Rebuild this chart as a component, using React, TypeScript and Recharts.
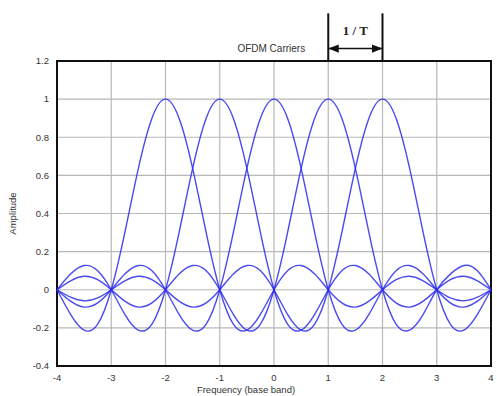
import React from 'react';
import {
  LineChart,
  Line,
  XAxis,
  YAxis,
  CartesianGrid,
  ReferenceArea,
  ReferenceLine,
  ReferenceDot,
} from 'recharts';

// frequency samples (base band)
const freq = [
  -4, -3.75, -3.5, -3.25, -3, -2.75, -2.5, -2.25, -2, -1.75, -1.5, -1.25, -1,
  -0.75, -0.5, -0.25, 0, 0.25, 0.5, 0.75, 1, 1.25, 1.5, 1.75, 2, 2.25, 2.5,
  2.75, 3, 3.25, 3.5, 3.75, 4,
];

// amplitude of each OFDM carrier
const carrierM2 = [
  0, -0.129, -0.212, -0.18, 0, 0.3, 0.637, 0.9, 1, 0.9, 0.637, 0.3, 0, -0.18,
  -0.212, -0.129, 0, 0.1, 0.127, 0.082, 0, -0.069, -0.091, -0.06, 0, 0.053,
  0.071, 0.047, 0, -0.043, -0.058, -0.039, 0,
];
const carrierM1 = [
  0, 0.082, 0.127, 0.1, 0, -0.129, -0.212, -0.18, 0, 0.3, 0.637, 0.9, 1, 0.9,
  0.637, 0.3, 0, -0.18, -0.212, -0.129, 0, 0.1, 0.127, 0.082, 0, -0.069,
  -0.091, -0.06, 0, 0.053, 0.071, 0.047, 0,
];
const carrier0 = [
  0, -0.06, -0.091, -0.069, 0, 0.082, 0.127, 0.1, 0, -0.129, -0.212, -0.18, 0,
  0.3, 0.637, 0.9, 1, 0.9, 0.637, 0.3, 0, -0.18, -0.212, -0.129, 0, 0.1, 0.127,
  0.082, 0, -0.069, -0.091, -0.06, 0,
];
const carrierP1 = [
  0, 0.047, 0.071, 0.053, 0, -0.06, -0.091, -0.069, 0, 0.082, 0.127, 0.1, 0,
  -0.129, -0.212, -0.18, 0, 0.3, 0.637, 0.9, 1, 0.9, 0.637, 0.3, 0, -0.18,
  -0.212, -0.129, 0, 0.082, 0.127, 0.1, 0,
];
const carrierP2 = [
  0, -0.039, -0.058, -0.043, 0, 0.047, 0.071, 0.053, 0, -0.06, -0.091, -0.069,
  0, 0.082, 0.127, 0.1, 0, -0.129, -0.212, -0.18, 0, 0.3, 0.637, 0.9, 1, 0.9,
  0.637, 0.3, 0, -0.18, -0.212, -0.129, 0,
];

const xTicks = [-4, -3, -2, -1, 0, 1, 2, 3, 4];
const yTicks = [-0.4, -0.2, 0, 0.2, 0.4, 0.6, 0.8, 1, 1.2];

const series = ['m2', 'm1', 'c0', 'p1', 'p2'];

const data = freq.map((f, i) => ({
  f,
  m2: carrierM2[i],
  m1: carrierM1[i],
  c0: carrier0[i],
  p1: carrierP1[i],
  p2: carrierP2[i],
}));

const blue = '#2a2aee';
const font = 'Liberation Sans, Arial, sans-serif';

export default function App() {
  return (
    <div style={{ position: 'absolute', left: 0, top: 0, width: 497, height: 396, background: '#fff' }}>
      <LineChart
        width={497}
        height={396}
        data={data}
        margin={{ top: 61, right: 6, left: 0, bottom: 0 }}
        style={{ fontFamily: font }}
      >
        <defs>
          <marker id="arrowHead" viewBox="0 0 10 10" refX="10" refY="5" markerWidth="7" markerHeight="7" orient="auto-start-reverse">
            <path d="M0,1 L10,5 L0,9 z" fill="#111" />
          </marker>
        </defs>
        <CartesianGrid stroke="#b8b8b8" strokeWidth={1.2} />
        <XAxis
          dataKey="f"
          type="number"
          domain={[-4, 4]}
          ticks={xTicks}
          tickLine={false}
          axisLine={false}
          height={30}
          tick={{ fontSize: 9.5, fill: '#333' }}
          label={{
            content: ({ viewBox }: any) => (
              <text x={viewBox.x + viewBox.width / 2 - 28} y={viewBox.y + 27} textAnchor="middle" fontSize={9.5} fill="#333">
                Frequency (base band)
              </text>
            ),
          }}
        />
        <YAxis
          type="number"
          domain={[-0.4, 1.2]}
          ticks={yTicks}
          tickLine={false}
          axisLine={false}
          width={57}
          interval={0}
          tick={{ fontSize: 9.5, fill: '#333' }}
          label={{
            content: ({ viewBox }: any) => (
              <text
                x={16}
                y={viewBox.y + viewBox.height / 2}
                transform={`rotate(-90, 16, ${viewBox.y + viewBox.height / 2})`}
                textAnchor="middle"
                fontSize={9.5}
                fill="#333"
              >
                Amplitude
              </text>
            ),
          }}
        />
        <ReferenceArea x1={-4} x2={4} y1={-0.4} y2={1.2} fill="none" stroke="#111" strokeWidth={2} />
        {series.map((k) => (
          <Line
            key={k}
            dataKey={k}
            type="natural"
            stroke={blue}
            strokeWidth={1.4}
            strokeOpacity={0.85}
            dot={false}
            isAnimationActive={false}
          />
        ))}
        <ReferenceLine
          segment={[{ x: 1, y: 1.2 }, { x: 1, y: 1.45 }]}
          stroke="#111"
          strokeWidth={2}
          ifOverflow="visible"
        />
        <ReferenceLine
          segment={[{ x: 2, y: 1.2 }, { x: 2, y: 1.45 }]}
          stroke="#111"
          strokeWidth={2}
          ifOverflow="visible"
        />
        <ReferenceLine
          segment={[{ x: 1, y: 1.265 }, { x: 2, y: 1.265 }]}
          stroke="#111"
          strokeWidth={1.5}
          markerStart="url(#arrowHead)"
          markerEnd="url(#arrowHead)"
          ifOverflow="visible"
        />
        <ReferenceDot
          x={1.5}
          y={1.36}
          r={0}
          ifOverflow="visible"
          label={{ value: '1 / T', position: 'center', fontSize: 13, fontWeight: 'bold', fontFamily: 'Liberation Serif, serif', fill: '#222' }}
        />
        <ReferenceDot
          x={-0.05}
          y={1.265}
          r={0}
          ifOverflow="visible"
          label={{ value: 'OFDM Carriers', position: 'center', fontSize: 10, fill: '#333' }}
        />
      </LineChart>
    </div>
  );
}
